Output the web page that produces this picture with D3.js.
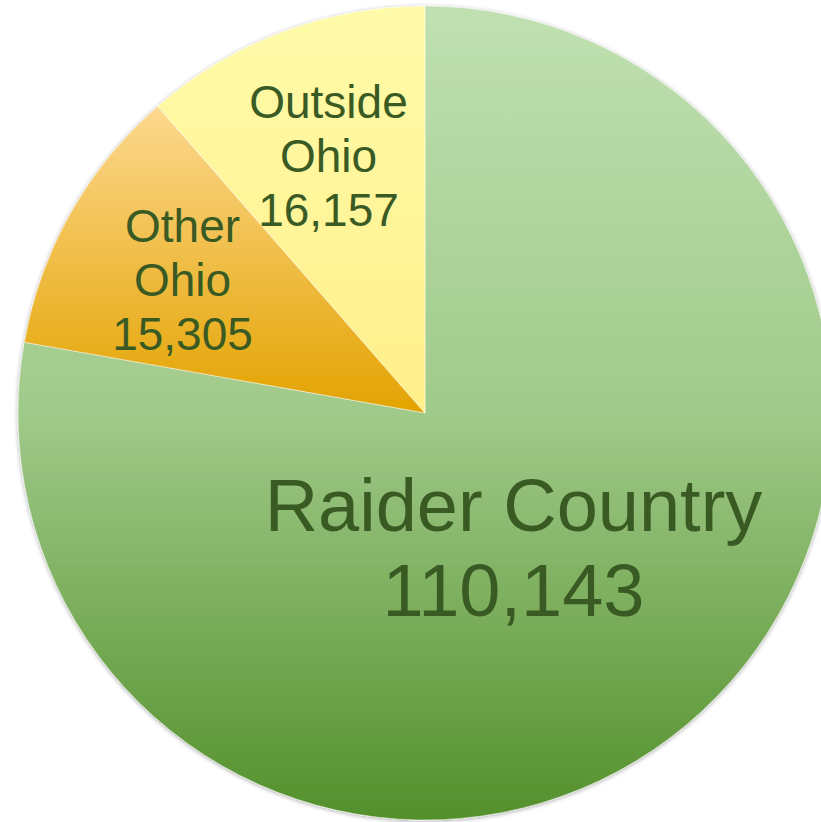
<!DOCTYPE html>
<html>
<head>
<meta charset="utf-8">
<script src="https://cdn.jsdelivr.net/npm/d3@7"></script>
<style>
  body { margin: 0; background: #fff; }
  svg { display: block; }
</style>
</head>
<body>
<svg></svg>
<script>
let width = 821
let height = 822

let categories = ['Raider Country', 'Other Ohio', 'Outside Ohio']
let labelLines = [['Raider Country'], ['Other', 'Ohio'], ['Outside', 'Ohio']]
let values = [110143, 15305, 16157]

let gradients = [
  [['0%', '#c0e0b1'], ['50%', '#a0ca8a'], ['100%', '#53902b']],
  [['0%', '#fdd88f'], ['100%', '#e3a300']],
  [['0%', '#fffbaa'], ['100%', '#ffef8a']]
]

let cx = 425
let cy = 413
let radius = 407

let svg = d3.select('svg')
    .attr('width', width)
    .attr('height', height)

let defs = svg.append('defs')

gradients.forEach((stops, i) => {
  let g = defs.append('linearGradient')
      .attr('id', 'grad' + i)
      .attr('x1', 0).attr('y1', 0)
      .attr('x2', 0).attr('y2', 1)
  stops.forEach(s => g.append('stop').attr('offset', s[0]).attr('stop-color', s[1]))
})

let shadow = defs.append('filter')
    .attr('id', 'shadow')
    .attr('x', '-10%').attr('y', '-10%')
    .attr('width', '120%').attr('height', '120%')
shadow.append('feDropShadow')
    .attr('dx', 0).attr('dy', 1)
    .attr('stdDeviation', 2)
    .attr('flood-color', '#000')
    .attr('flood-opacity', 0.35)

let pie = d3.pie()
    .sort(null)
    .value(d => d)

let arc = d3.arc()
    .innerRadius(0)
    .outerRadius(radius)

let arcs = pie(values)

let g = svg.append('g')
    .attr('transform', `translate(${cx}, ${cy})`)

g.append('g')
    .attr('filter', 'url(#shadow)')
  .selectAll('path')
  .data(arcs)
  .enter()
  .append('path')
    .attr('d', arc)
    .attr('fill', (d, i) => `url(#grad${i})`)
    .attr('stroke', '#ffffff')
    .attr('stroke-opacity', 0.6)
    .attr('stroke-width', 0.8)

// big slice label sits nearer the middle, small slices further out
let isBig = d => (d.endAngle - d.startAngle) > Math.PI
let labelRadius = d => isBig(d) ? radius * 0.43 : radius * 0.69
let fontSize = d => isBig(d) ? 74 : 46
let lineHeight = d => isBig(d) ? 85 : 54

let fmt = d3.format(',')

let labels = g.selectAll('text.label')
  .data(arcs)
  .enter()
  .append('text')
    .attr('class', 'label')
    .attr('text-anchor', 'middle')
    .style('font-family', 'Liberation Sans, Arial, sans-serif')
    .style('font-size', d => fontSize(d) + 'px')
    .attr('fill', '#3a5a24')
    .attr('transform', d => {
      let c = d3.arc().innerRadius(labelRadius(d)).outerRadius(labelRadius(d)).centroid(d)
      // nudges so the labels sit where the original put them
      let dx = isBig(d) ? -24 : 2
      let dy = isBig(d) ? 0 : 5
      return `translate(${c[0] + dx}, ${c[1] + dy})`
    })

labels.each(function(d, i) {
  let lines = labelLines[i].concat([fmt(values[i])])
  let n = lines.length
  let f = fontSize(d)
  let lh = lineHeight(d)
  let first = 0.36 * f - (n - 1) * lh / 2
  d3.select(this).selectAll('tspan')
    .data(lines)
    .enter()
    .append('tspan')
      .attr('x', 0)
      .attr('y', (t, j) => first + j * lh)
      .text(t => t)
})
</script>
</body>
</html>
